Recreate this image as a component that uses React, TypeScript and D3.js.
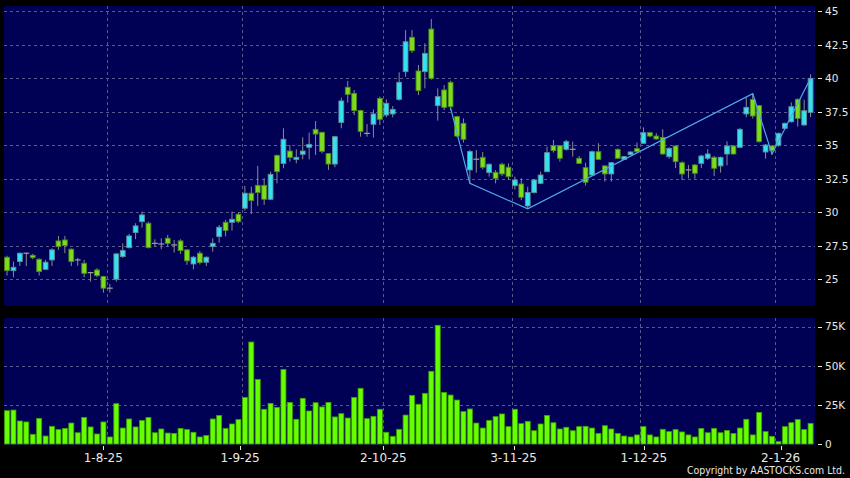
import React from "react";
import * as d3 from "d3";

const dateLabels = ["1-8-25", "1-9-25", "2-10-25", "3-11-25", "1-12-25", "2-1-26"];
const dateLabelIdx = [15, 36, 58, 78, 98, 119];

const opens = [
  26.64, 25.64, 26.32, 26.94, 26.79, 26.49, 25.74, 26.44, 27.86, 27.93,
  27.24, 26.44, 26.19, 25.49, 25.69, 25.2, 24.33, 25.0, 26.69, 27.36,
  28.48, 29.3, 29.18, 27.68, 27.63, 28.06, 27.56, 27.86, 27.19, 26.14,
  26.94, 26.27, 27.44, 28.18, 29.25, 29.25, 29.85, 30.3, 31.42, 32.01,
  32.01, 30.97, 34.25, 33.65, 34.57, 33.95, 34.33, 34.85, 36.19, 35.97,
  34.38, 33.6, 36.71, 39.33, 38.88, 37.6, 35.89, 36.57, 38.5, 37.26,
  37.34, 38.43, 40.5, 43.06, 40.55, 40.5, 43.68, 37.96, 39.13, 39.7,
  37.14, 36.64, 33.16, 33.96, 34.1, 32.96, 32.98, 33.58, 33.36, 31.99,
  32.11, 30.47, 31.47, 32.16, 33.03, 34.97, 34.97, 34.7, 34.7, 34.03,
  33.33, 32.78, 34.52, 33.46, 32.86, 34.7, 33.95, 34.3, 34.75, 35.15,
  35.94, 35.69, 35.59, 34.15, 34.95, 33.7, 33.16, 33.53, 33.65, 34.03,
  34.1, 33.46, 34.35, 34.95, 34.85, 37.34, 38.43, 37.96, 34.5, 34.95,
  35.0, 36.27, 36.76, 38.43, 36.52, 37.46,
];
const closes = [
  25.64, 25.89, 26.94, 26.94, 26.61, 25.57, 26.27, 27.19, 27.43, 27.51,
  26.32, 26.44, 25.44, 25.49, 25.27, 24.33, 24.33, 26.89, 27.14, 28.23,
  28.98, 29.8, 27.36, 27.68, 27.63, 27.68, 27.56, 27.14, 26.37, 26.64,
  26.24, 26.64, 27.68, 28.88, 28.63, 29.47, 29.3, 31.42, 30.87, 31.47,
  30.97, 32.83, 33.03, 35.45, 34.1, 34.1, 34.57, 35.07, 35.84, 34.55,
  33.6, 35.64, 38.31, 38.8, 37.6, 36.04, 35.89, 37.34, 36.94, 38.13,
  37.68, 39.7, 42.73, 42.06, 39.08, 41.86, 40.0, 38.63, 37.83, 37.88,
  35.69, 35.45, 34.53, 33.96, 33.36, 33.58, 32.53, 32.86, 32.66, 32.41,
  31.12, 31.47, 32.41, 32.78, 34.45, 34.6, 34.03, 35.27, 34.7, 33.65,
  32.24, 34.52, 33.95, 32.86, 33.7, 34.03, 34.15, 34.5, 34.52, 35.94,
  35.69, 35.47, 34.35, 34.77, 33.78, 32.86, 33.16, 32.91, 34.2, 34.35,
  33.28, 34.1, 34.95, 34.35, 36.19, 37.83, 37.19, 35.27, 35.02, 34.6,
  35.89, 36.64, 37.88, 37.01, 37.58, 40.0,
];
const highs = [
  26.75, 26.32, 27.0, 26.98, 26.89, 26.55, 26.44, 27.31, 28.23, 28.23,
  27.3, 26.6, 26.44, 25.55, 25.82, 25.25, 24.65, 26.95, 27.68, 28.38,
  29.18, 30.05, 29.3, 27.98, 28.05, 28.31, 27.93, 27.98, 27.25, 26.74,
  27.1, 26.7, 28.06, 29.05, 29.43, 30.05, 30.0, 31.96, 31.91, 33.46,
  32.53, 33.03, 34.3, 36.27, 35.02, 34.7, 35.6, 35.94, 36.81, 36.0,
  34.42, 35.7, 38.55, 39.8, 39.13, 37.65, 36.59, 37.68, 38.63, 38.43,
  37.93, 40.45, 43.6, 43.6, 41.0, 42.61, 44.43, 39.25, 39.5, 39.82,
  37.2, 37.01, 34.65, 34.65, 34.5, 33.65, 33.15, 33.7, 33.65, 32.66,
  32.53, 31.9, 32.5, 33.03, 34.9, 35.4, 35.0, 35.4, 35.27, 34.2,
  33.7, 34.6, 35.15, 33.5, 33.75, 34.75, 34.2, 34.55, 35.2, 36.34,
  36.0, 35.9, 36.19, 34.85, 35.0, 33.8, 33.53, 33.6, 34.3, 34.7,
  34.2, 34.15, 35.3, 35.0, 36.3, 38.58, 38.88, 38.0, 35.1, 35.0,
  35.95, 36.7, 38.2, 38.5, 38.4, 40.3,
];
const lows = [
  25.27, 25.15, 25.99, 25.99, 26.49, 25.27, 25.7, 25.99, 27.19, 26.94,
  25.99, 26.0, 25.15, 24.82, 25.15, 24.0, 24.0, 24.82, 26.6, 27.3,
  27.98, 28.85, 27.3, 27.43, 27.24, 27.43, 26.99, 26.89, 26.07, 25.74,
  26.1, 25.99, 27.06, 27.73, 28.2, 28.63, 29.2, 30.12, 29.87, 30.47,
  30.55, 30.92, 32.16, 33.28, 33.78, 33.65, 33.95, 33.95, 34.28, 34.4,
  33.16, 33.36, 36.27, 38.18, 37.26, 35.64, 35.64, 35.57, 36.52, 37.09,
  37.09, 38.33, 40.12, 41.9, 38.75, 39.25, 39.9, 36.84, 37.63, 37.6,
  35.6, 35.2, 32.16, 32.96, 33.2, 32.66, 32.16, 32.7, 32.41, 31.7,
  30.9, 30.25, 31.4, 32.1, 33.0, 34.45, 33.78, 34.6, 34.15, 33.6,
  31.99, 32.7, 33.9, 32.29, 32.29, 34.0, 33.9, 34.25, 34.45, 35.1,
  35.6, 35.4, 34.3, 34.0, 33.3, 32.41, 32.53, 32.5, 33.3, 33.9,
  32.7, 32.96, 33.5, 34.3, 34.8, 37.09, 37.0, 35.2, 34.0, 34.3,
  34.9, 36.2, 36.7, 36.4, 36.45, 37.1,
];
// volume in thousands
const volumes = [
  21.3, 21.7, 14.7, 14.1, 6.2, 16.4, 5.1, 11.3, 9.2, 10.0,
  13.4, 7.2, 17.0, 10.9, 6.4, 14.1, 4.5, 25.8, 10.2, 16.0,
  10.9, 15.1, 17.0, 7.2, 9.6, 7.0, 6.8, 10.0, 9.2, 7.5,
  4.5, 5.5, 16.0, 18.3, 10.0, 12.8, 15.6, 29.8, 65.2, 41.3,
  22.2, 26.0, 23.4, 47.7, 26.6, 15.8, 29.2, 21.1, 26.4, 23.7,
  26.6, 17.3, 19.4, 16.6, 29.8, 35.6, 16.2, 17.7, 22.2, 7.5,
  4.9, 9.4, 18.5, 31.1, 25.4, 32.4, 46.5, 75.9, 33.0, 31.3,
  28.1, 20.7, 22.4, 13.4, 10.2, 15.1, 17.5, 19.2, 11.1, 22.2,
  13.0, 14.5, 8.5, 12.8, 18.3, 13.6, 9.6, 10.7, 8.5, 11.1,
  11.3, 10.2, 6.8, 11.7, 9.6, 6.8, 5.1, 4.5, 5.8, 11.1,
  5.8, 4.5, 9.4, 7.9, 9.2, 7.7, 5.8, 4.5, 10.0, 7.2,
  10.0, 7.2, 8.7, 6.8, 10.2, 15.8, 5.8, 20.2, 7.9, 4.9,
  1.5, 11.1, 13.6, 15.6, 9.2, 13.2,
];
const priceTicks = [25, 27.5, 30, 32.5, 35, 37.5, 40, 42.5, 45];
const volTicks = [0, 25, 50, 75];
const volTickLabels = ["0", "25K", "50K", "75K"];
const trendIdx = [69, 72, 81, 116, 119, 125];
const trendVal = [37.8, 32.16, 30.25, 38.85, 34.35, 40.0];

const NAVY = "#000055";
const GRID = "#58588e";
const CYAN = "#33e2ee";
const CYAN_EDGE = "#5f8f9c";
const GREEN = "#7ddc1e";
const GREEN_EDGE = "#4d8a1a";
const WICK = "#8c8c8c";
const VOL = "#66ff00";
const VOL_EDGE = "#3e9e00";
const TEXT = "#e8e8e8";
const FONT = "'DejaVu Sans', Verdana, sans-serif";

export default function App() {
  const W = 850, H = 478;
  const plotL = 4, plotR = 815;
  const pTop = 6, pBot = 306;
  const vTop = 318, vBot = 444;
  const N = closes.length;

  const x = d3.scaleBand<number>().domain(d3.range(N)).range([3.8, 813.8]).padding(0);
  const step = x.step();
  const cx = (i: number) => (x(i) as number) + step / 2;
  const y = d3.scaleLinear().domain([23.0, 45.4]).range([pBot, pTop]);
  const yv = d3.scaleLinear().domain([0, 75]).range([vBot, 326.7]);
  const lx = d3.scaleLinear().domain([0, N - 1]).range([5.6, 819.7]);
  const crisp = (v: number) => Math.round(v) + 0.5;

  const trendLine = d3
    .line<number>()
    .x((d) => cx(trendIdx[d]))
    .y((d) => y(trendVal[d]))(d3.range(trendIdx.length)) as string;

  const bodyW = 4.8;
  const volW = 5.0;

  return (
    <svg
      width={W}
      height={H}
      style={{ position: "absolute", left: 0, top: 0, display: "block" }}
      fontFamily={FONT}
    >
      <rect x={0} y={0} width={W} height={H} fill="#000" />
      <rect x={plotL} y={pTop} width={plotR - plotL} height={pBot - pTop} fill={NAVY} />
      <rect x={plotL} y={vTop} width={plotR - plotL} height={vBot - vTop + 1} fill={NAVY} />

      {priceTicks.map((t) => (
        <line
          key={"pg" + t}
          x1={plotL}
          x2={plotR}
          y1={crisp(y(t))}
          y2={crisp(y(t))}
          stroke={GRID}
          strokeDasharray="3,3"
        />
      ))}
      {volTicks.slice(1).map((t) => (
        <line
          key={"vg" + t}
          x1={plotL}
          x2={plotR}
          y1={crisp(yv(t))}
          y2={crisp(yv(t))}
          stroke={GRID}
          strokeDasharray="3,3"
        />
      ))}
      {dateLabelIdx.map((i) => (
        <g key={"vgd" + i}>
          <line
            x1={crisp((x(i) as number) + step)}
            x2={crisp((x(i) as number) + step)}
            y1={pTop}
            y2={pBot}
            stroke={GRID}
            strokeDasharray="3,3"
          />
          <line
            x1={crisp((x(i) as number) + step)}
            x2={crisp((x(i) as number) + step)}
            y1={vTop}
            y2={vBot}
            stroke={GRID}
            strokeDasharray="3,3"
          />
        </g>
      ))}

      {closes.map((c, i) => {
        const o = opens[i];
        const xc = cx(i);
        const up = c > o;
        const doji = c === o;
        return (
          <g key={"c" + i}>
            <line x1={xc} x2={xc} y1={y(highs[i])} y2={y(lows[i])} stroke={WICK} strokeWidth={1} />
            {doji ? (
              <line
                x1={xc - bodyW / 2 - 0.5}
                x2={xc + bodyW / 2 + 0.5}
                y1={y(o)}
                y2={y(o)}
                stroke="#a0a0a0"
                strokeWidth={1.2}
              />
            ) : (
              <rect
                x={xc - bodyW / 2}
                y={y(Math.max(o, c))}
                width={bodyW}
                height={Math.max(1, Math.abs(y(o) - y(c)))}
                fill={up ? CYAN : GREEN}
                stroke={up ? CYAN_EDGE : GREEN_EDGE}
                strokeWidth={0.9}
              />
            )}
          </g>
        );
      })}

      <path d={trendLine} fill="none" stroke="#4ea8e8" strokeWidth={1.2} />

      {volumes.map((v, i) => (
        <rect
          key={"v" + i}
          x={cx(i) - volW / 2}
          y={yv(v)}
          width={volW}
          height={vBot - yv(v)}
          fill={VOL}
          stroke={VOL_EDGE}
          strokeWidth={0.8}
        />
      ))}

      {priceTicks.map((t) => (
        <g key={"pt" + t}>
          <line x1={818} x2={822} y1={crisp(y(t))} y2={crisp(y(t))} stroke={TEXT} />
          <text x={825} y={y(t)} dy="0.36em" fill={TEXT} fontSize={10.5}>
            {String(t)}
          </text>
        </g>
      ))}
      {volTicks.map((t, k) => (
        <g key={"vt" + t}>
          <line x1={818} x2={822} y1={crisp(yv(t))} y2={crisp(yv(t))} stroke={TEXT} />
          <text x={825} y={yv(t)} dy="0.36em" fill={TEXT} fontSize={10.5}>
            {volTickLabels[k]}
          </text>
        </g>
      ))}

      {dateLabelIdx.map((i, k) => (
        <g key={"dt" + i}>
          <line x1={crisp(lx(i))} x2={crisp(lx(i))} y1={446} y2={450} stroke={TEXT} />
          <text x={lx(i)} y={462} textAnchor="middle" fill={TEXT} fontSize={12}>
            {dateLabels[k]}
          </text>
        </g>
      ))}

      <text
        x={845}
        y={474}
        textAnchor="end"
        fill={TEXT}
        fontSize={10.5}
        textLength={158}
        lengthAdjust="spacingAndGlyphs"
      >
        Copyright by AASTOCKS.com Ltd.
      </text>
    </svg>
  );
}
